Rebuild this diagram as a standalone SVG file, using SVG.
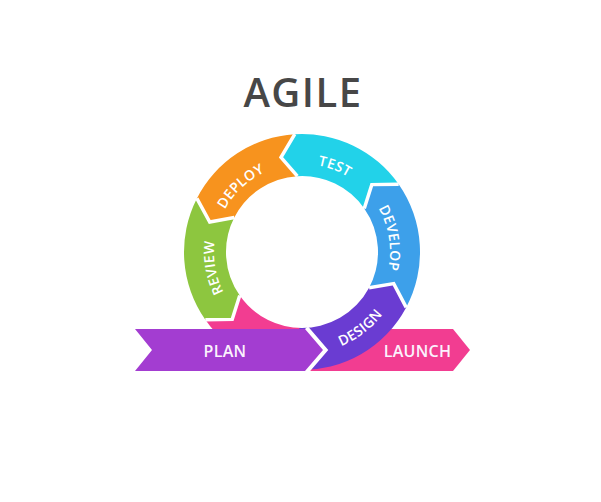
<svg xmlns="http://www.w3.org/2000/svg" width="601" height="502" viewBox="0 0 601 502">
  <style>
    .lbl { font-family: "Open Sans", "Liberation Sans", sans-serif; font-weight: 600; font-size: 14px; fill: #ffffff; letter-spacing: 0.3px; }
    .ban { font-family: "Open Sans", "Liberation Sans", sans-serif; font-weight: 600; font-size: 16px; fill: #fbf2fd; letter-spacing: 0.3px; }
    .sep { fill: none; stroke: #ffffff; stroke-width: 3.5; stroke-linejoin: miter; }
    .title { font-family: "Open Sans", "Liberation Sans", sans-serif; font-weight: 600; font-size: 40px; fill: #474747; letter-spacing: 1.5px; }
  </style>
  <defs>
    <path id="pDeploy" d="M214.66,241.28 A88,88 0 0 1 297.39,164.12"/>
    <path id="pTest" d="M273.35,168.79 A88,88 0 0 1 378.97,209.34"/>
    <path id="pDevelop" d="M359.73,185.59 A88,88 0 0 1 377.43,297.32"/>
    <path id="pReview" d="M245.43,319.41 A88,88 0 0 1 225.79,208"/>
    <path id="pDesign" d="M297.55,353.9 A102,102 0 0 0 401.58,274.08"/>
  </defs>
  <rect width="601" height="502" fill="#ffffff"/>

  <text class="title" x="303" y="107" text-anchor="middle">AGILE</text>

  <g id="launch">
    <path d="M205.34,319.68 A118,118 0 0 0 306.12,369.93 L304.65,327.95 A76,76 0 0 1 239.74,295.59 L232.22,319.38 Z" fill="#f23d91"/>
    <polygon points="300,329 453,329 470,350 453,371 300,371" fill="#f23d91"/>
    <text class="ban" x="417.5" y="357" text-anchor="middle">LAUNCH</text>
  </g>

  <g id="design">
    <path d="M297.88,369.93 A118,118 0 0 0 406.19,307.40 L393.72,283.58 L369.10,287.68 A76,76 0 0 1 299.35,327.95 Z" fill="#6a3cd2"/>
    <text class="lbl"><textPath href="#pDesign" startOffset="50%" text-anchor="middle">DESIGN</textPath></text>
  </g>

  <g id="develop">
    <path d="M406.19,307.40 A118,118 0 0 0 398.66,184.32 L371.78,184.62 L364.26,208.41 A76,76 0 0 1 369.10,287.68 L393.72,283.58 Z" fill="#3da0ea"/>
    <text class="lbl"><textPath href="#pDevelop" startOffset="50%" text-anchor="middle">DEVELOP</textPath></text>
  </g>

  <g id="test">
    <path d="M398.66,184.32 A118,118 0 0 0 294.80,134.22 L281.01,157.30 L297.36,176.14 A76,76 0 0 1 364.26,208.41 L371.78,184.62 Z" fill="#22d2e9"/>
    <text class="lbl"><textPath href="#pTest" startOffset="50%" text-anchor="middle">TEST</textPath></text>
  </g>

  <g id="deploy">
    <path d="M294.80,134.22 A118,118 0 0 0 196.86,198.43 L209.75,222.03 L234.28,217.50 A76,76 0 0 1 297.36,176.14 L281.01,157.30 Z" fill="#f7931e"/>
    <text class="lbl"><textPath href="#pDeploy" startOffset="50%" text-anchor="middle">DEPLOY</textPath></text>
  </g>

  <g id="review">
    <path d="M196.86,198.43 A118,118 0 0 0 205.34,319.68 L232.22,319.38 L239.74,295.59 A76,76 0 0 1 234.28,217.50 L209.75,222.03 Z" fill="#8dc63f"/>
    <text class="lbl"><textPath href="#pReview" startOffset="50%" text-anchor="middle">REVIEW</textPath></text>
  </g>

  <g id="separators">
    <polyline class="sep" points="369.10,287.68 393.72,283.58 406.19,307.40"/>
    <polyline class="sep" points="364.26,208.41 371.78,184.62 398.66,184.32"/>
    <polyline class="sep" points="297.36,176.14 281.01,157.30 294.80,134.22"/>
    <polyline class="sep" points="234.28,217.50 209.75,222.03 196.86,198.43"/>
    <polyline class="sep" points="239.74,295.59 232.22,319.38 205.34,319.68"/>
  </g>

  <g id="plan">
    <polyline points="305,329 323,350 305,371" fill="none" stroke="#ffffff" stroke-width="8" stroke-linejoin="miter"/>
    <polygon points="135,329 305,329 323,350 305,371 135,371 152,350" fill="#a33dd1"/>
    <text class="ban" x="225" y="357" text-anchor="middle">PLAN</text>
  </g>
</svg>
